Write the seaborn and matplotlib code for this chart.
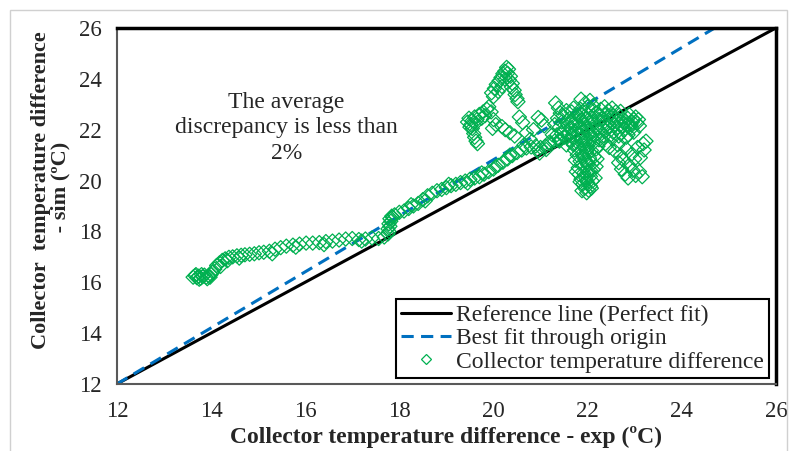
import matplotlib
matplotlib.use("Agg")
import matplotlib.pyplot as plt
from matplotlib.markers import MarkerStyle
from matplotlib.lines import Line2D
from matplotlib.patches import Rectangle
import pandas as pd
import seaborn as sns

# reference and fit lines (end points)
ref_x = [12, 26]
ref_y = [12, 26]
fit_x = [12, 24.7]
fit_y = [12, 26]

low_branch = [
    (13.62, 16.20), (13.66, 16.26), (13.70, 16.18), (13.74, 16.24), (13.78, 16.16),
    (13.82, 16.22), (13.86, 16.28), (13.90, 16.20), (13.95, 16.26), (14.00, 16.30),
    (13.68, 16.30), (13.80, 16.30), (13.92, 16.14), (13.75, 16.12), (13.98, 16.20),
    (14.04, 16.40), (14.08, 16.52), (14.12, 16.66), (14.18, 16.76), (14.24, 16.86),
    (14.30, 16.92), (14.38, 16.98), (14.46, 17.00), (14.55, 17.04), (14.64, 17.06),
    (14.72, 17.08), (14.82, 17.10), (14.92, 17.12), (15.02, 17.16), (15.12, 17.18),
    (15.24, 17.22), (15.36, 17.30), (15.48, 17.36), (15.60, 17.42), (15.74, 17.46),
    (15.88, 17.50), (16.02, 17.54), (16.16, 17.54), (16.30, 17.56), (16.44, 17.60),
    (16.58, 17.62), (16.72, 17.66), (16.86, 17.70), (17.00, 17.72), (17.14, 17.68),
    (17.28, 17.70), (17.42, 17.74), (17.56, 17.72), (17.68, 17.78),
    (14.20, 16.62), (14.35, 16.85), (14.60, 16.95), (15.30, 17.12), (15.80, 17.38),
    (16.40, 17.48), (17.20, 17.62),
]
jump = [
    (17.76, 17.90), (17.78, 18.00), (17.76, 18.10), (17.80, 18.20), (17.78, 18.30),
    (17.82, 18.40), (17.80, 18.50), (17.84, 18.60), (17.86, 18.55), (17.90, 18.65),
]
rise = [
    (18.00, 18.75), (18.10, 18.80), (18.20, 18.90), (18.30, 19.00), (18.40, 19.10),
    (18.50, 19.25), (18.60, 19.40), (18.70, 19.50), (18.80, 19.60), (18.90, 19.65),
    (19.00, 19.72), (19.10, 19.80), (19.20, 19.85), (19.30, 19.92), (19.40, 19.98),
    (19.50, 20.05), (19.60, 20.10), (19.70, 20.15), (19.80, 20.25), (19.90, 20.35),
    (20.00, 20.45), (20.10, 20.60), (20.20, 20.72), (20.30, 20.85), (20.40, 20.98),
    (20.50, 21.10), (20.60, 21.20), (20.70, 21.28), (20.80, 21.32), (20.90, 21.36),
    (21.00, 21.30), (21.10, 21.35), (21.20, 21.45), (21.30, 21.55), (21.40, 21.60),
    (18.25, 19.05), (18.55, 19.20), (19.05, 19.85), (19.45, 19.90), (19.75, 20.30),
    (20.05, 20.55), (20.35, 21.00), (20.65, 21.40), (20.95, 21.20),
]
branch_a = [
    (19.45, 22.30), (19.48, 22.45), (19.52, 22.20), (19.55, 22.05), (19.58, 21.85),
    (19.60, 21.70), (19.63, 21.55), (19.66, 21.45), (19.55, 22.35), (19.60, 22.50),
    (19.65, 22.40), (19.70, 22.60), (19.75, 22.45), (19.78, 22.70), (19.82, 22.55),
    (19.86, 22.80), (19.90, 22.90), (19.95, 22.70), (20.00, 22.40), (20.05, 22.20),
    (19.98, 22.05), (19.50, 22.10), (19.62, 22.25),
]
branch_b = [
    (20.28, 24.45), (20.32, 24.38), (20.24, 24.30), (20.20, 24.20), (20.30, 24.22),
    (20.36, 24.10), (20.16, 24.05), (20.12, 23.92), (20.25, 23.98), (20.34, 23.95),
    (20.40, 23.82), (20.06, 23.78), (20.02, 23.62), (20.18, 23.70), (20.38, 23.68),
    (20.44, 23.55), (19.96, 23.45), (20.10, 23.50), (20.46, 23.38), (20.50, 23.22),
    (20.52, 23.10), (20.00, 23.30),
]
bridge = [
    (20.18, 22.12), (20.25, 22.00), (20.35, 21.88), (20.45, 21.75), (20.55, 22.50),
    (20.62, 22.28), (20.70, 21.88), (20.78, 21.62), (20.85, 22.00), (20.95, 22.48),
    (21.02, 22.38), (21.08, 22.15), (21.12, 21.22), (20.98, 21.08), (21.18, 21.50),
    (21.25, 21.80),
]
cluster_left = [
    (21.32, 23.05), (21.38, 22.85), (21.42, 22.65), (21.36, 22.45), (21.45, 22.30),
    (21.40, 22.10), (21.50, 21.95), (21.48, 22.55), (21.55, 22.75), (21.35, 21.80),
    (21.58, 22.20), (21.62, 22.45), (21.30, 22.20), (21.70, 22.85), (21.78, 22.60),
    (21.85, 22.80), (21.92, 22.50), (21.75, 22.35), (21.66, 22.70), (21.86, 23.20),
    (21.95, 23.05), (22.05, 23.15), (22.12, 22.95), (22.00, 22.90), (21.40, 21.55),
    (21.50, 21.70), (21.60, 21.60), (21.70, 21.45), (21.60, 21.85), (21.55, 21.40),
    (21.65, 22.05), (21.45, 21.85),
]
column = [
    (21.98, 19.52), (22.02, 19.62), (21.94, 19.70), (22.06, 19.78), (21.90, 19.86),
    (22.00, 19.92), (22.10, 19.98), (21.86, 20.05), (21.96, 20.10), (22.06, 20.16),
    (21.82, 20.24), (21.92, 20.30), (22.02, 20.36), (22.12, 20.42), (21.80, 20.50),
    (21.90, 20.56), (22.00, 20.62), (22.10, 20.68), (21.84, 20.76), (21.94, 20.82),
    (22.04, 20.88), (22.14, 20.94), (21.78, 21.00), (21.88, 21.06), (21.98, 21.12),
    (22.08, 21.18), (22.18, 21.24), (21.82, 21.30), (21.92, 21.36), (22.02, 21.42),
    (22.12, 21.48), (21.76, 21.54), (21.86, 21.60), (21.96, 21.66), (22.06, 21.72),
    (22.16, 21.78), (21.80, 21.84), (21.90, 21.90), (22.00, 21.96), (22.10, 22.02),
    (22.20, 22.08), (21.84, 22.14), (21.94, 22.20), (22.04, 22.26), (22.14, 22.32),
    (21.88, 22.38), (21.98, 22.44), (22.08, 22.50), (21.72, 21.95), (21.70, 21.70),
    (21.74, 22.20),
]
column_fill = [
    (21.88, 19.60), (22.08, 19.70), (21.84, 19.95), (22.16, 20.10), (21.76, 20.35),
    (22.18, 20.55), (21.74, 20.80), (22.20, 20.85), (21.72, 21.20), (22.22, 21.35),
    (21.70, 21.40), (22.24, 21.60), (21.68, 21.80), (22.26, 21.90), (21.66, 22.30),
    (22.24, 22.40), (21.80, 22.55), (22.18, 22.65), (21.95, 22.70), (22.10, 22.80),
    (21.90, 20.95), (22.00, 21.25), (21.95, 21.55), (22.05, 21.85), (21.97, 22.10),
    (22.06, 20.40), (21.98, 20.00), (22.00, 20.70),
]
cluster_right = [
    (22.25, 22.60), (22.32, 22.45), (22.40, 22.62), (22.48, 22.35), (22.55, 22.55),
    (22.62, 22.30), (22.70, 22.50), (22.78, 22.25), (22.85, 22.45), (22.92, 22.20),
    (22.98, 22.40), (23.05, 22.25), (22.30, 22.10), (22.38, 21.95), (22.46, 22.15),
    (22.54, 21.90), (22.62, 22.05), (22.70, 21.85), (22.78, 22.00), (22.86, 21.80),
    (22.94, 22.05), (22.28, 22.80), (22.36, 22.90), (22.44, 22.75), (22.60, 22.70),
    (22.88, 22.60), (23.02, 22.50),
    (22.35, 22.30), (22.50, 22.50), (22.65, 22.40), (22.80, 22.35), (22.95, 22.30),
    (22.42, 22.05), (22.58, 22.20), (22.74, 22.15), (22.90, 22.10), (22.35, 21.75),
    (22.50, 21.80), (22.66, 21.75), (22.82, 21.70), (22.98, 21.90), (23.10, 22.15),
    (23.08, 22.40), (22.52, 22.85), (22.70, 22.72),
]
cluster_low = [
    (22.30, 21.60), (22.38, 21.45), (22.46, 21.30), (22.52, 21.65), (22.58, 21.15),
    (22.64, 21.40), (22.70, 21.00), (22.76, 20.80), (22.82, 21.25), (22.88, 20.60),
    (22.94, 21.05), (23.00, 20.85), (23.06, 21.30), (23.12, 20.90), (23.18, 21.45),
    (23.24, 21.55), (22.72, 20.45), (22.80, 20.25), (22.86, 20.10), (23.02, 20.20),
    (23.10, 20.35), (23.16, 20.15), (22.66, 20.70), (22.96, 20.40), (23.20, 21.20),
]

points = (low_branch + jump + rise + branch_a + branch_b + bridge + cluster_left
          + column + column_fill + cluster_right + cluster_low)
df = pd.DataFrame(points, columns=["exp", "sim"])

sns.set_style("white")
plt.rcParams["font.family"] = ["Liberation Serif", "DejaVu Serif"]

fig = plt.figure(figsize=(7.95, 4.51), dpi=100)
ax = fig.add_axes([0.147, 0.1486, 0.829, 0.7894])

green = "#00B050"
blue = "#0070C0"
fs = 16.5
dash = (0, (4, 2.4))

sns.lineplot(x=ref_x, y=ref_y, ax=ax, color="black", linewidth=2.2)
sns.lineplot(x=fit_x, y=fit_y, ax=ax, color=blue, linewidth=2.2, linestyle=dash)
sns.scatterplot(data=df, x="exp", y="sim", ax=ax,
                marker=MarkerStyle("D", fillstyle="none"),
                color=green, s=52, linewidth=0.9, zorder=3)

ax.set_xlim(12, 26)
ax.set_ylim(12, 26)
ax.set_xticks(range(12, 27, 2))
ax.set_yticks(range(12, 27, 2))
ax.tick_params(axis="both", direction="out", length=5, width=1,
               color="#808080", labelsize=fs)
ax.tick_params(axis="x", pad=7)
ax.tick_params(axis="y", pad=6)

for side in ["top", "right"]:
    ax.spines[side].set_color("black")
    ax.spines[side].set_linewidth(2.5)
for side in ["left", "bottom"]:
    ax.spines[side].set_color("#595959")
    ax.spines[side].set_linewidth(1.5)

ax.set_xlabel("Collector temperature difference - exp (ºC)",
              fontsize=17, fontweight="bold", labelpad=3)
ax.set_ylabel("Collector  temperature difference\n - sim (ºC)",
              fontsize=16, fontweight="bold", linespacing=1.0)
ax.yaxis.set_label_coords(-0.07, 0.545)

ax.text(15.6, 22.07, "The average\ndiscrepancy is less than\n2%",
        ha="center", va="center", fontsize=17, linespacing=1.3)

handles = [
    Line2D([0], [0], color="black", linewidth=2.2),
    Line2D([0], [0], color=blue, linewidth=2.2, linestyle=dash),
    Line2D([0], [0], color=green, marker="D", markersize=5,
           markerfacecolor="none", markeredgewidth=0.9, linestyle="none"),
]
labels = ["Reference line (Perfect fit)", "Best fit through origin",
          "Collector temperature difference"]
leg = ax.legend(handles, labels, loc="lower right",
                bbox_to_anchor=(0.989, 0.017), borderaxespad=0,
                fontsize=17, frameon=True, fancybox=False, edgecolor="black",
                handlelength=2.1, handletextpad=0.2, labelspacing=0.08,
                borderpad=0.22, framealpha=1)
leg.get_frame().set_linewidth(1.5)

fig.patches.append(Rectangle((10 / 795, -0.05), 777 / 795, 1.05 - 10 / 451,
                             transform=fig.transFigure, fill=False,
                             edgecolor="#d0d0d0", linewidth=1))

fig.savefig("out.png", dpi=100)
